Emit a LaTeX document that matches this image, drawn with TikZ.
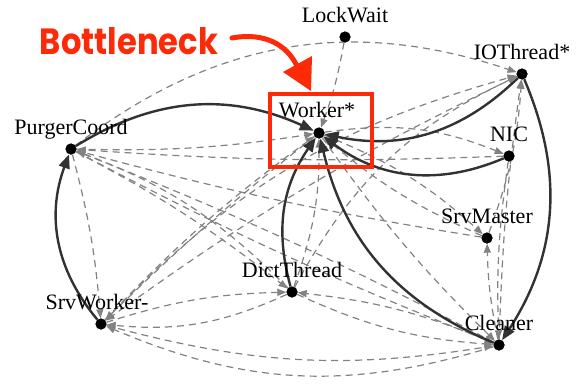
\documentclass[tikz,border=0pt]{standalone}
\usepackage{fontspec}
\setmainfont{Liberation Serif}
\newfontfamily\bnfont{Poppins}
\usetikzlibrary{arrows.meta,calc}
\definecolor{solidc}{RGB}{50,50,50}
\definecolor{dashc}{RGB}{130,130,130}
\definecolor{hot}{RGB}{252,42,8}
\begin{document}
\begin{tikzpicture}[x=1pt,y=-1pt,
  dotn/.style={circle,fill=black,inner sep=0pt,minimum size=11pt},
  lbl/.style={font=\fontsize{22}{25}\selectfont,inner sep=0pt,anchor=base},
  dep/.style={draw=dashc,line width=1.2pt,dash pattern=on 7pt off 5pt,
    -{Triangle[length=9pt,width=7pt,fill=dashc,color=dashc]}},
  hard/.style={draw=solidc,line width=2.4pt,
    -{Triangle[length=14pt,width=11pt,fill=solidc,color=solidc]}}]
\useasboundingbox (0,0) rectangle (581,383);

% nodes
\node[dotn] (LockWait) at (345,37) {};
\node[dotn] (IOThread) at (522,74) {};
\node[dotn] (Worker) at (319,133) {};
\node[dotn] (NIC) at (509,156) {};
\node[dotn] (PurgerCoord) at (71,149) {};
\node[dotn] (SrvMaster) at (487,238) {};
\node[dotn] (DictThread) at (292,292) {};
\node[dotn] (SrvWorker) at (101,324) {};
\node[dotn] (Cleaner) at (499,345) {};

% dashed dependencies
\draw[dep] (PurgerCoord) to[bend left=28] (IOThread);
\draw[dep] (LockWait) to[bend left=5] (Worker);
\draw[dep] (SrvWorker) to[bend left=15] (IOThread);
\draw[dep] (DictThread) to[bend left=18] (IOThread);
\draw[dep] (Worker) to[bend left=15] (NIC);
\draw[dep] (Cleaner) to[bend left=3] (IOThread);
\draw[dep] (SrvMaster) to[bend right=8] (IOThread);
\draw[dep] (NIC) to[bend left=3] (PurgerCoord);
\draw[dep] (SrvMaster) to[bend left=3] (PurgerCoord);
\draw[dep] (Cleaner) to[bend right=3] (PurgerCoord);
\draw[dep] (DictThread) to[bend right=12] (PurgerCoord);
\draw[dep] (PurgerCoord) to[bend right=3] (Cleaner);
\draw[dep] (Worker) to[bend right=3] (SrvWorker);
\draw[dep] (IOThread) to[bend right=5] (SrvWorker);
\draw[dep] (DictThread) to[bend left=15] (SrvWorker);
\draw[dep] (Cleaner) to[bend left=20] (SrvWorker);
\draw[dep] (PurgerCoord) to[bend left=5] (SrvWorker);
\draw[dep] (SrvWorker) to[bend left=8] (DictThread);
\draw[dep] (Cleaner) to[bend right=8] (DictThread);
\draw[dep] (PurgerCoord) to[bend left=5] (DictThread);
\draw[dep] (SrvWorker) to[bend right=12] (Cleaner);
\draw[dep] (Worker) to[bend left=10] (SrvMaster);
\draw[dep] (Cleaner) to[bend left=5] (SrvMaster);
\draw[dep] (SrvMaster) to[bend left=8] (Worker);
\draw[dep] (PurgerCoord) to[bend right=5] (Worker);
\draw[dep] (SrvWorker) to[bend left=5] (Worker);
\draw[dep] (DictThread) to[bend right=10] (Worker);
\draw[dep] (NIC) to[bend right=5] (Cleaner);
\draw[dep] (Worker) to[bend right=5] (Cleaner);
\draw[dep] (DictThread) to[bend right=10] (Cleaner);

% solid dependencies
\draw[hard] (PurgerCoord) to[bend left=28] (Worker);
\draw[hard] (IOThread) to[bend left=28] (Worker);
\draw[hard] (NIC) to[bend left=30] (Worker);
\draw[hard] (Cleaner) to[bend left=27] (Worker);
\draw[hard] (DictThread) to[bend left=25] (Worker);
\draw[hard] (SrvWorker) to[bend left=30] (PurgerCoord);
\draw[hard] (IOThread) to[bend left=28] (Cleaner);

% redraw dots on top
\foreach \n in {LockWait,IOThread,Worker,NIC,PurgerCoord,SrvMaster,DictThread,SrvWorker,Cleaner}
  \fill[black] (\n) circle (5.5pt);

% labels
\node[lbl] (tLockWait) at ($(LockWait)+(0,-15)$) {LockWait};
\node[lbl] (tIOThread) at ($(IOThread)+(0,-15)$) {IOThread*};
\node[lbl] (tWorker) at ($(Worker)+(-2,-16)$) {Worker*};
\node[lbl] (tNIC) at ($(NIC)+(0,-15)$) {NIC};
\node[lbl] (tPurgerCoord) at ($(PurgerCoord)+(0,-15)$) {PurgerCoord};
\node[lbl] (tSrvMaster) at ($(SrvMaster)+(0,-15)$) {SrvMaster};
\node[lbl] (tDictThread) at ($(DictThread)+(0,-15)$) {DictThread};
\node[lbl] (tSrvWorker) at ($(SrvWorker)+(-4,-15)$) {SrvWorker-};
\node[lbl] (tCleaner) at ($(Cleaner)+(0,-15)$) {Cleaner};

% bottleneck highlight
\draw[hot,line width=4pt] (270,94) rectangle (372,167);
\node[text=hot,inner sep=0pt] (bn) at (129,41)
  {\resizebox{178pt}{27pt}{\bnfont\bfseries Bottleneck}};
\coordinate (arrS) at (232,38);
\coordinate (arrE) at (297,66);
\draw[hot,line width=5pt,line cap=round] (arrS) .. controls (265,32) and (287,45) .. (arrE);
\fill[hot] (283,72) -- (312,56) -- (311,91) -- cycle;
\end{tikzpicture}
\end{document}
